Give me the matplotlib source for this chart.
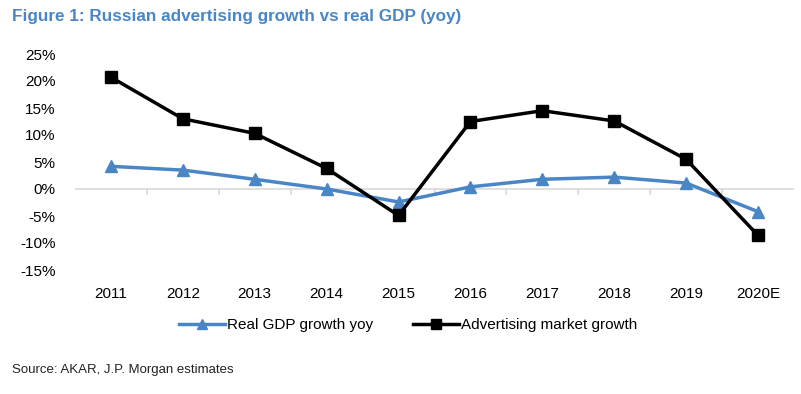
import numpy as np
import matplotlib.pyplot as plt

years = ["2011", "2012", "2013", "2014", "2015", "2016", "2017", "2018", "2019", "2020E"]
gdp_growth = [4.2, 3.5, 1.8, 0.0, -2.4, 0.4, 1.8, 2.2, 1.1, -4.2]
ad_growth = [20.7, 13.0, 10.3, 3.8, -4.9, 12.5, 14.5, 12.6, 5.5, -8.6]

BLUE = "#4a86c5"
narrow = ["Liberation Sans Narrow", "Liberation Sans", "DejaVu Sans"]

fig = plt.figure(figsize=(8.01, 3.94), dpi=100)
ax = fig.add_axes([75 / 801, 1 - 270 / 394, (794 - 75) / 801, (270 - 54) / 394])

x = np.arange(len(years))
ax.plot(x, gdp_growth, color=BLUE, lw=2.5, marker="^", ms=9,
        label="Real GDP growth yoy")
ax.plot(x, ad_growth, color="black", lw=2.5, marker="s", ms=9,
        label="Advertising market growth")

ax.set_xlim(-0.5, len(years) - 0.5)
ax.set_ylim(-15, 25)
ax.set_yticks(np.arange(-15, 26, 5))
ax.set_yticklabels([f"{v}%" for v in range(-15, 26, 5)], family=narrow, fontsize=11)

# category boundaries get the tick marks, labels go at the bottom
ax.set_xticks([])
ax.axhline(0, color="#d9d9d9", lw=1.2, zorder=0)
for b in np.arange(0.5, len(years) - 1, 1.0):
    ax.plot([b, b], [0, -0.9], color="#d9d9d9", lw=1.2, zorder=0)
for xi, lab in zip(x, years):
    ax.text(xi, -19.5, lab, ha="center", va="center", family=narrow, fontsize=11)

for s in ax.spines.values():
    s.set_visible(False)
ax.tick_params(axis="y", length=0, pad=14)

leg = fig.legend(loc="center", bbox_to_anchor=(408 / 801, 1 - 325 / 394), ncol=2,
                 frameon=False, prop={"family": narrow, "size": 11},
                 handlelength=3.0, handletextpad=0.15, columnspacing=2.6,
                 markerscale=0.8)

fig.text(12 / 801, 1 - 17 / 394, "Figure 1: Russian advertising growth vs real GDP (yoy)",
         color=BLUE, fontweight="bold", family=narrow, fontsize=12.3, va="center", ha="left")
fig.text(12 / 801, 1 - 370 / 394, "Source: AKAR, J.P. Morgan estimates",
         family=narrow, fontsize=9.5, va="center", ha="left", color="#222222")

fig.savefig("out.png", dpi=100)
